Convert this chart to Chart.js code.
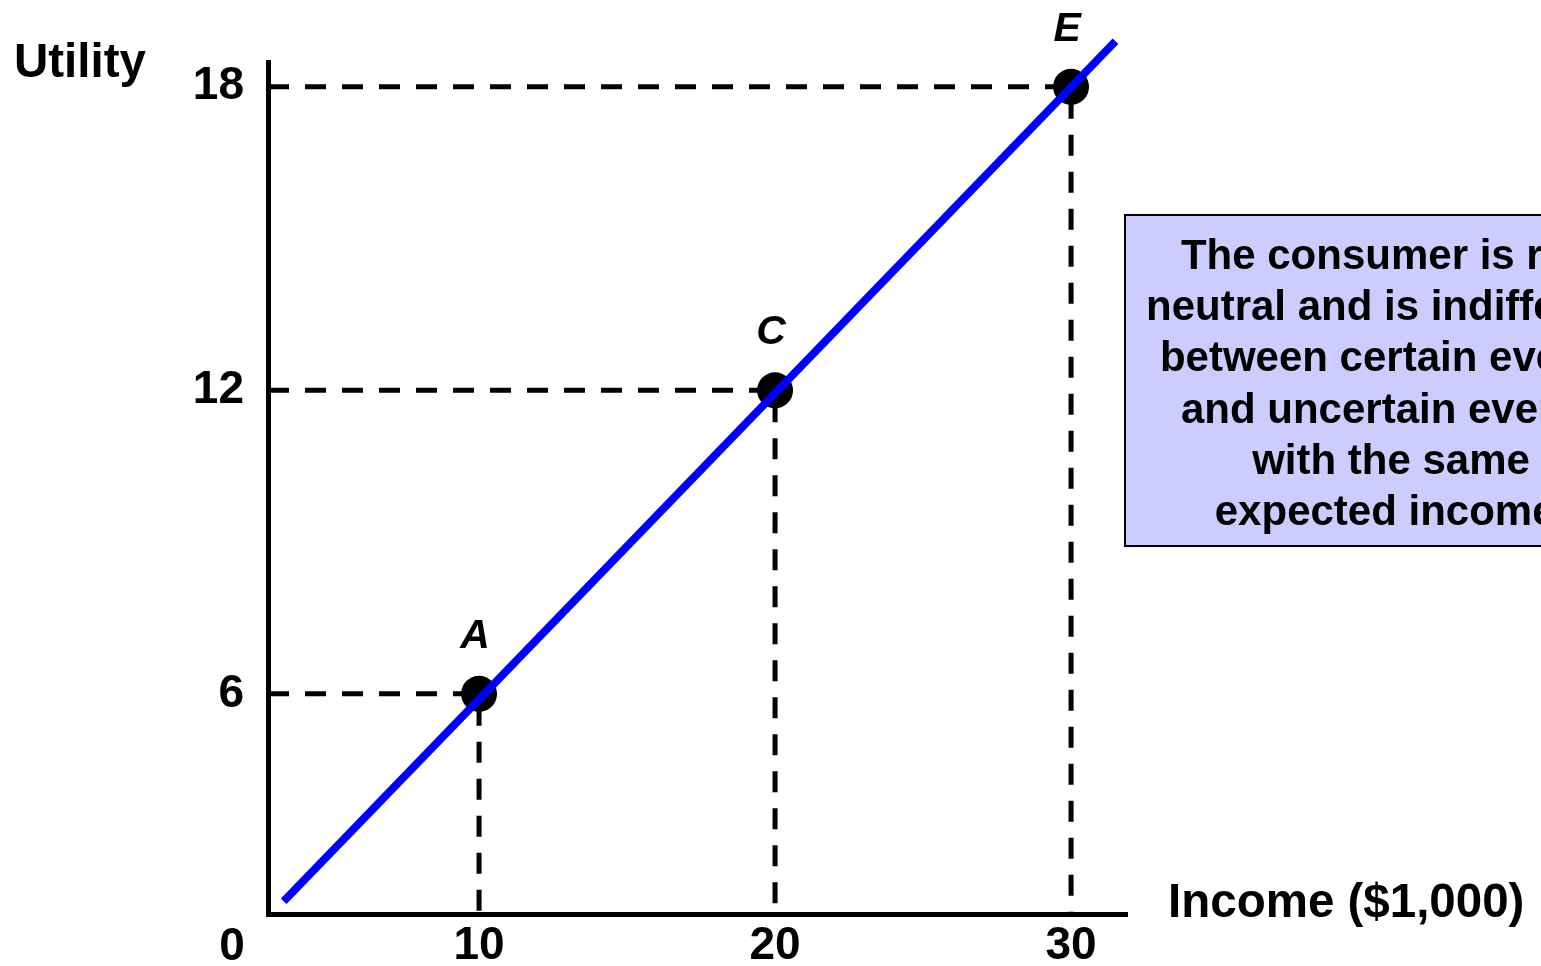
<!DOCTYPE html>
<html>
<head>
<meta charset="utf-8">
<title>Risk neutral utility</title>
<script src="https://cdn.jsdelivr.net/npm/chart.js@4/dist/chart.umd.min.js"></script>
<style>
  html, body { margin: 0; padding: 0; background: #fff; overflow: hidden; }
  #wrap { width: 1541px; height: 966px; }
</style>
</head>
<body>
<div id="wrap"><canvas id="utilityChart" width="1541" height="966"></canvas></div>
<script>
(function() {
  'use strict';

  // Points on the utility line (income in $1,000, utility)
  const incomeValues = [10, 20, 30];
  const utilityValues = [6, 12, 18];
  const pointLabels = ['A', 'C', 'E'];

  // Ends of the straight utility line
  const lineIncome = [3.4, 31.5];
  const lineUtility = [1.9, 18.9];

  // Tick labels shown on the axes
  const xTicks = [10, 20, 30];
  const yTicks = [6, 12, 18];

  const noteLines = [
    'The consumer is risk',
    'neutral and is indifferent',
    'between certain events',
    'and uncertain events',
    'with the same',
    'expected income.'
  ];

  const FONT = "'Liberation Sans', Arial, Helvetica, sans-serif";
  const X_MIN = 2.87, X_MAX = 31.89;
  const Y_MIN = 1.64, Y_MAX = 18.49;

  const linePoints = lineIncome.map((v, i) => ({ x: v, y: lineUtility[i] }));
  const markerPoints = incomeValues.map((v, i) => ({ x: v, y: utilityValues[i] }));

  // dashed guides: from y axis to the point, then down to x axis
  const guideSets = incomeValues.map((v, i) => ({
    type: 'line',
    data: [
      { x: X_MIN, y: utilityValues[i] },
      { x: v, y: utilityValues[i] },
      { x: v, y: Y_MIN }
    ],
    borderColor: '#000',
    borderWidth: 5,
    borderDash: [21, 16],
    pointRadius: 0,
    fill: false,
    order: 3
  }));

  const annotations = {
    id: 'annotations',
    afterDatasetsDraw(chart) {
      const { ctx, chartArea } = chart;
      const x = chart.scales.x;
      const y = chart.scales.y;
      ctx.save();
      ctx.fillStyle = '#000';
      ctx.textBaseline = 'alphabetic';

      ctx.font = 'bold 47.5px ' + FONT;
      ctx.textAlign = 'left';
      ctx.fillText('Utility', 14, 77);
      ctx.fillText('Income ($1,000)', chartArea.right + 41, chartArea.bottom + 3);

      ctx.font = 'bold 46px ' + FONT;
      ctx.textAlign = 'center';
      ctx.fillText('0', chartArea.left - 36, 960);

      ctx.font = 'italic bold 41px ' + FONT;
      pointLabels.forEach((lbl, i) => {
        const px = x.getPixelForValue(incomeValues[i]);
        const py = y.getPixelForValue(utilityValues[i]);
        ctx.fillText(lbl, px - 4, py - 46);
      });

      // note box, runs off the right edge
      ctx.fillStyle = '#CCCCFF';
      ctx.fillRect(1125, 215, 520, 331);
      ctx.strokeStyle = '#000';
      ctx.lineWidth = 2;
      ctx.strokeRect(1125, 215, 520, 331);
      ctx.fillStyle = '#000';
      ctx.font = 'bold 42px ' + FONT;
      noteLines.forEach((t, i) => {
        ctx.fillText(t, 1391, 269 + i * 51.2);
      });
      ctx.restore();
    }
  };

  const canvas = document.getElementById('utilityChart');

  new Chart(canvas, {
    data: {
      datasets: [
        {
          type: 'line',
          data: linePoints,
          borderColor: '#0000FF',
          borderWidth: 8,
          borderCapStyle: 'butt',
          pointRadius: 0,
          fill: false,
          clip: false,
          order: 1
        },
        {
          type: 'scatter',
          data: markerPoints,
          backgroundColor: '#000',
          borderColor: '#000',
          borderWidth: 0,
          pointRadius: 18,
          order: 2
        },
        ...guideSets
      ]
    },
    options: {
      responsive: false,
      animation: false,
      events: [],
      layout: {
        padding: { top: 62, right: 414, left: 0, bottom: 0 }
      },
      plugins: {
        legend: { display: false },
        tooltip: { enabled: false }
      },
      scales: {
        x: {
          type: 'linear',
          position: 'bottom',
          min: X_MIN,
          max: X_MAX,
          afterBuildTicks: (scale) => {
            scale.ticks = xTicks.map(v => ({ value: v }));
          },
          afterFit: (scale) => { scale.height = 50; },
          grid: { display: false, drawTicks: false },
          border: { display: true, color: '#000', width: 5 },
          ticks: {
            color: '#000',
            padding: 4,
            maxRotation: 0,
            font: { family: FONT, size: 46, weight: 'bold' },
            callback: (v) => String(v)
          }
        },
        y: {
          type: 'linear',
          min: Y_MIN,
          max: Y_MAX,
          afterBuildTicks: (scale) => {
            scale.ticks = yTicks.map(v => ({ value: v }));
          },
          afterFit: (scale) => { scale.width = 268; },
          grid: { display: false, drawTicks: false },
          border: { display: true, color: '#000', width: 5 },
          ticks: {
            color: '#000',
            padding: 24,
            font: { family: FONT, size: 46, weight: 'bold' },
            callback: (v) => String(v)
          }
        }
      }
    },
    plugins: [annotations]
  });
})();
</script>
</body>
</html>
